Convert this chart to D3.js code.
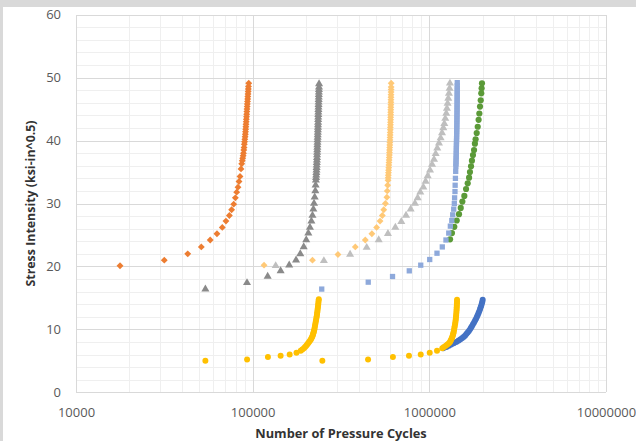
<!DOCTYPE html>
<html>
<head>
<meta charset="utf-8">
<script src="https://cdn.jsdelivr.net/npm/d3@7"></script>
<style>
  html, body { margin: 0; padding: 0; background: #fff; }
  #chart { width: 636px; height: 441px; }
  text { font-family: 'Open Sans', sans-serif; }
</style>
</head>
<body>
<div id="chart"></div>
<script>
// [cycles, stress] pairs
const orangeDiamonds = [
  [17750, 20.1], [31600, 21.0], [42900, 22.0], [51200, 23.1], [57500, 24.2], [62800, 25.2],
  [67300, 26.2], [70600, 27.2], [73800, 28.1], [76000, 29.0], [78100, 29.9], [79800, 30.9],
  [81200, 31.8], [82600, 32.6], [83700, 33.5], [84800, 34.3], [85900, 35.5], [86700, 36.3],
  [87300, 36.8], [87800, 37.2], [88300, 37.6], [88700, 38.0], [89100, 38.5], [89400, 38.9],
  [89700, 39.4], [90000, 39.8], [90300, 40.2], [90600, 40.6], [90900, 41.0], [91100, 41.4],
  [91300, 41.8], [91500, 42.2], [91700, 42.6], [91900, 43.0], [92100, 43.4], [92300, 43.8],
  [92500, 44.2], [92700, 44.6], [92900, 45.0], [93100, 45.4], [93300, 45.8], [93500, 46.2],
  [93700, 46.6], [93900, 47.0], [94100, 47.4], [94300, 47.8], [94500, 48.2], [94700, 48.6],
  [95000, 49.1]
];

const grayTriangles = [
  [54000, 16.4], [92900, 17.4], [121600, 18.4], [144000, 19.3], [161000, 20.2], [176000, 21.0],
  [186000, 22.0], [194500, 23.1], [201000, 24.2], [206600, 25.3], [211000, 26.2], [215000, 27.2],
  [218000, 28.1], [220600, 29.1], [222500, 30.0], [224400, 31.0], [226300, 32.0], [227200, 32.9],
  [228000, 33.7], [228500, 34.1], [229000, 34.5], [229400, 34.9], [229800, 35.3], [230100, 35.7],
  [230400, 36.1], [230700, 36.5], [231000, 36.9], [231300, 37.3], [231500, 37.7], [231800, 38.1],
  [232000, 38.5], [232300, 38.9], [232500, 39.3], [232800, 39.7], [233000, 40.1], [233300, 40.5],
  [233500, 40.9], [233800, 41.3], [234000, 41.7], [234200, 42.1], [234400, 42.5], [234600, 42.9],
  [234800, 43.3], [235000, 43.7], [235200, 44.1], [235400, 44.5], [235600, 44.9], [235800, 45.3],
  [236000, 45.7], [236200, 46.1], [236400, 46.5], [236600, 46.9], [236800, 47.3], [237000, 47.7],
  [237200, 48.1], [237400, 48.5], [237600, 49.0]
];

const peachDiamonds = [
  [116000, 20.2], [218000, 21.0], [304000, 21.9], [381000, 23.1], [434000, 24.2], [473000, 25.2],
  [503000, 26.2], [526000, 27.2], [542000, 28.1], [552000, 29.0], [564000, 30.0], [575000, 31.0],
  [578000, 32.0], [581000, 32.9], [584000, 33.7], [585000, 34.1], [586000, 34.5], [587000, 34.9],
  [588000, 35.3], [589000, 35.7], [590000, 36.1], [591000, 36.5], [592000, 36.9], [593000, 37.3],
  [594000, 37.7], [594800, 38.1], [595600, 38.5], [596400, 38.9], [597200, 39.3], [598000, 39.7],
  [598700, 40.1], [599400, 40.5], [600000, 40.9], [600600, 41.3], [601200, 41.7], [601800, 42.1],
  [602300, 42.5], [602800, 42.9], [603300, 43.3], [603800, 43.7], [604200, 44.1], [604600, 44.5],
  [605000, 44.9], [605400, 45.3], [605800, 45.7], [606100, 46.1], [606400, 46.5], [606700, 46.9],
  [607000, 47.3], [607300, 47.7], [607600, 48.1], [607900, 48.5], [608200, 49.1]
];

const silverTriangles = [
  [135000, 20.1], [253000, 20.9], [356000, 21.9], [442000, 23.0], [517000, 24.2], [583000, 25.2],
  [642000, 26.2], [694000, 27.1], [738000, 28.1], [784000, 29.1], [829000, 30.0], [859000, 30.9],
  [889000, 31.8], [925000, 32.6], [953000, 33.5], [979000, 34.4], [1009000, 35.3], [1036000, 36.2],
  [1063000, 37.0], [1086000, 37.9], [1109000, 38.8], [1134000, 39.6], [1159000, 40.4], [1180000, 41.2],
  [1200000, 42.0], [1216000, 42.7], [1231000, 43.5], [1247000, 44.3], [1258000, 45.1], [1269000, 45.9],
  [1280000, 46.7], [1291000, 47.5], [1302000, 48.3], [1308000, 49.1]
];

const greenCircles = [
  [1310000, 24.3], [1343000, 25.3], [1385000, 26.3], [1429000, 27.3], [1472000, 28.3], [1506000, 29.3],
  [1538000, 30.3], [1578000, 31.2], [1614000, 32.3], [1649000, 33.2], [1679000, 34.1], [1698000, 35.0],
  [1722000, 35.9], [1742000, 36.8], [1766000, 37.7], [1791000, 38.5], [1811000, 39.5], [1828000, 40.2],
  [1854000, 41.2], [1879000, 42.2], [1901000, 43.3], [1919000, 44.3], [1936000, 45.4], [1954000, 46.4],
  [1968000, 47.5], [1977000, 48.3], [1986000, 49.1]
];

const blueSquares = [
  [246000, 16.4], [451000, 17.5], [619000, 18.4], [770000, 19.3], [894000, 20.2], [1005000, 21.1],
  [1105000, 22.1], [1184000, 23.1], [1242000, 24.2], [1288000, 25.3], [1315000, 26.4], [1340000, 27.3],
  [1356000, 28.2], [1374000, 29.1], [1385000, 30.0], [1390000, 30.9], [1397000, 31.9], [1400000, 32.9],
  [1405000, 34.0], [1410000, 35.1], [1413000, 35.9], [1415000, 36.3], [1416000, 36.7], [1417500, 37.1],
  [1419000, 37.5], [1420000, 37.9], [1421000, 38.3], [1422000, 38.7], [1423000, 39.1], [1424000, 39.5],
  [1425000, 39.9], [1426000, 40.3], [1427000, 40.7], [1428000, 41.1], [1429000, 41.5], [1430000, 41.9],
  [1430800, 42.3], [1431600, 42.7], [1432400, 43.1], [1433000, 43.5], [1433600, 43.9], [1434200, 44.3],
  [1434800, 44.7], [1435300, 45.1], [1435800, 45.5], [1436300, 45.9], [1436800, 46.3], [1437200, 46.7],
  [1437600, 47.1], [1438000, 47.5], [1438400, 47.9], [1438700, 48.3], [1439000, 48.7], [1439300, 49.2]
];

const goldLow = [
  [54000, 5.0], [93000, 5.2], [122000, 5.6], [144000, 5.8], [162000, 6.0], [177000, 6.3],
  [187000, 6.6], [191000, 6.8], [195000, 7.0], [198000, 7.2], [201000, 7.4], [203500, 7.6],
  [206000, 7.8], [208500, 8.0], [211000, 8.2], [213500, 8.4], [215000, 8.6], [217000, 8.8],
  [218500, 9.0], [219500, 9.2], [220500, 9.4], [221500, 9.6], [222500, 9.8], [223500, 10.0],
  [224500, 10.3], [225500, 10.6], [226500, 10.9], [227500, 11.2], [228500, 11.5], [229500, 11.8],
  [230500, 12.1], [231300, 12.4], [232000, 12.7], [232800, 13.0], [233500, 13.3], [234200, 13.6],
  [234900, 13.9], [235500, 14.2], [236000, 14.5], [236800, 14.8]
];

const goldHigh = [
  [248000, 5.0], [450000, 5.2], [622000, 5.6], [767000, 5.8], [894000, 6.0], [1005000, 6.3],
  [1105000, 6.6], [1184000, 7.0], [1210000, 7.2], [1240000, 7.4], [1265000, 7.6], [1290000, 7.8],
  [1309000, 8.0], [1320000, 8.2], [1330000, 8.4], [1340000, 8.6], [1349000, 8.8], [1356000, 9.0],
  [1362000, 9.2], [1368000, 9.4], [1373000, 9.6], [1380000, 9.9], [1386000, 10.2], [1392000, 10.5],
  [1398000, 10.8], [1404000, 11.1], [1408000, 11.4], [1412000, 11.7], [1416000, 12.0], [1419000, 12.3],
  [1422000, 12.6], [1425000, 12.9], [1427000, 13.2], [1429000, 13.5], [1431000, 13.8], [1433000, 14.1],
  [1434000, 14.4], [1435000, 14.7]
];

const blueCircles = [
  [1200000, 7.0], [1250000, 7.2], [1290000, 7.4], [1330000, 7.6], [1375000, 7.8], [1420000, 8.0],
  [1459000, 8.2], [1495000, 8.4], [1530000, 8.6], [1562000, 8.8], [1592000, 9.0], [1620000, 9.25],
  [1648000, 9.5], [1674000, 9.75], [1699000, 10.0], [1720000, 10.25], [1742000, 10.5], [1766000, 10.8],
  [1791000, 11.1], [1815000, 11.4], [1838000, 11.7], [1860000, 12.0], [1880000, 12.3], [1900000, 12.6],
  [1918000, 12.9], [1936000, 13.2], [1952000, 13.5], [1968000, 13.8], [1982000, 14.1], [1995000, 14.4],
  [2005000, 14.7]
];

const xTicks = [10000, 100000, 1000000, 10000000];
const yTicks = [0, 10, 20, 30, 40, 50, 60];
const xTitle = 'Number of Pressure Cycles';
const yTitle = 'Stress Intensity (ksi-in^0.5)';

// drawing order and marker styles
const series = [
  { data: blueCircles, shape: d3.symbolCircle, size: 28, color: '#4472C4' },
  { data: goldLow, shape: d3.symbolCircle, size: 28, color: '#FFC000' },
  { data: goldHigh, shape: d3.symbolCircle, size: 28, color: '#FFC000' },
  { data: orangeDiamonds, shape: d3.symbolDiamond2, size: 30, color: '#ED7D31' },
  { data: grayTriangles, shape: d3.symbolTriangle, size: 28, color: '#8A8A8A' },
  { data: peachDiamonds, shape: d3.symbolDiamond2, size: 30, color: '#FFC977' },
  { data: silverTriangles, shape: d3.symbolTriangle, size: 28, color: '#BFBFBF' },
  { data: greenCircles, shape: d3.symbolCircle, size: 30, color: '#5B9A38' },
  { data: blueSquares, shape: d3.symbolSquare, size: 28, color: '#8EA9DB' }
];

const width = 636;
const height = 441;
const margin = { top: 14.7, right: 30, bottom: 48.7, left: 76 };

const x = d3.scaleLog()
  .domain([1e4, 1e7])
  .range([margin.left, width - margin.right]);

const y = d3.scaleLinear()
  .domain([0, 60])
  .range([height - margin.bottom, margin.top]);

const svg = d3.create('svg')
  .attr('width', width)
  .attr('height', height)
  .attr('viewBox', [0, 0, width, height]);

// frame
svg.append('rect').attr('width', width).attr('height', height).attr('fill', '#fff');
svg.append('rect').attr('width', width).attr('height', 7).attr('fill', '#d9d9d9');
svg.append('rect').attr('width', 3).attr('height', height).attr('fill', '#d9d9d9');

// minor grid
const grid = svg.append('g').attr('shape-rendering', 'crispEdges');
grid.append('g')
  .selectAll('line')
  .data(x.ticks().filter(v => !xTicks.includes(v)))
  .join('line')
  .attr('x1', d => Math.round(x(d)) + 0.5)
  .attr('x2', d => Math.round(x(d)) + 0.5)
  .attr('y1', y(0))
  .attr('y2', y(60))
  .attr('stroke', '#efefef');

grid.append('g')
  .selectAll('line')
  .data(d3.range(2, 60, 2).filter(v => !yTicks.includes(v)))
  .join('line')
  .attr('x1', x(1e4))
  .attr('x2', x(1e7))
  .attr('y1', d => Math.round(y(d)) + 0.5)
  .attr('y2', d => Math.round(y(d)) + 0.5)
  .attr('stroke', '#efefef');

// major grid
grid.append('g')
  .selectAll('line')
  .data(xTicks)
  .join('line')
  .attr('x1', d => Math.round(x(d)) + 0.5)
  .attr('x2', d => Math.round(x(d)) + 0.5)
  .attr('y1', y(0))
  .attr('y2', y(60))
  .attr('stroke', '#d9d9d9');

grid.append('g')
  .selectAll('line')
  .data(yTicks)
  .join('line')
  .attr('x1', x(1e4))
  .attr('x2', x(1e7))
  .attr('y1', d => Math.round(y(d)) + 0.5)
  .attr('y2', d => Math.round(y(d)) + 0.5)
  .attr('stroke', '#d9d9d9');

// axes, labels only
svg.append('g')
  .attr('transform', `translate(0,${y(0)})`)
  .call(d3.axisBottom(x).tickValues(xTicks).tickFormat(d3.format('d')).tickSize(0).tickPadding(15))
  .call(g => g.select('.domain').remove())
  .call(g => g.selectAll('text')
    .attr('fill', '#595959')
    .style('font-family', "'Open Sans', sans-serif")
    .style('font-size', '13px'));

svg.append('g')
  .attr('transform', `translate(${x(1e4)},0)`)
  .call(d3.axisLeft(y).tickValues(yTicks).tickSize(0).tickPadding(15))
  .call(g => g.select('.domain').remove())
  .call(g => g.selectAll('text')
    .attr('fill', '#595959')
    .style('font-family', "'Open Sans', sans-serif")
    .style('font-size', '13px'));

// titles
svg.append('text')
  .attr('x', (x(1e4) + x(1e7)) / 2)
  .attr('y', 437.5)
  .attr('text-anchor', 'middle')
  .attr('fill', '#333333')
  .style('font-size', '12.8px')
  .style('font-weight', 'bold')
  .text(xTitle);

svg.append('text')
  .attr('transform', `translate(35,${(y(0) + y(60)) / 2}) rotate(-90)`)
  .attr('text-anchor', 'middle')
  .attr('fill', '#333333')
  .style('font-size', '12.4px')
  .style('font-weight', 'bold')
  .text(yTitle);

// markers
series.forEach(s => {
  const sym = d3.symbol().type(s.shape).size(s.size);
  svg.append('g')
    .selectAll('path')
    .data(s.data)
    .join('path')
    .attr('transform', d => `translate(${x(d[0])},${y(d[1])})`)
    .attr('d', sym)
    .attr('fill', s.color);
});

d3.select('#chart').append(() => svg.node());
</script>
</body>
</html>
